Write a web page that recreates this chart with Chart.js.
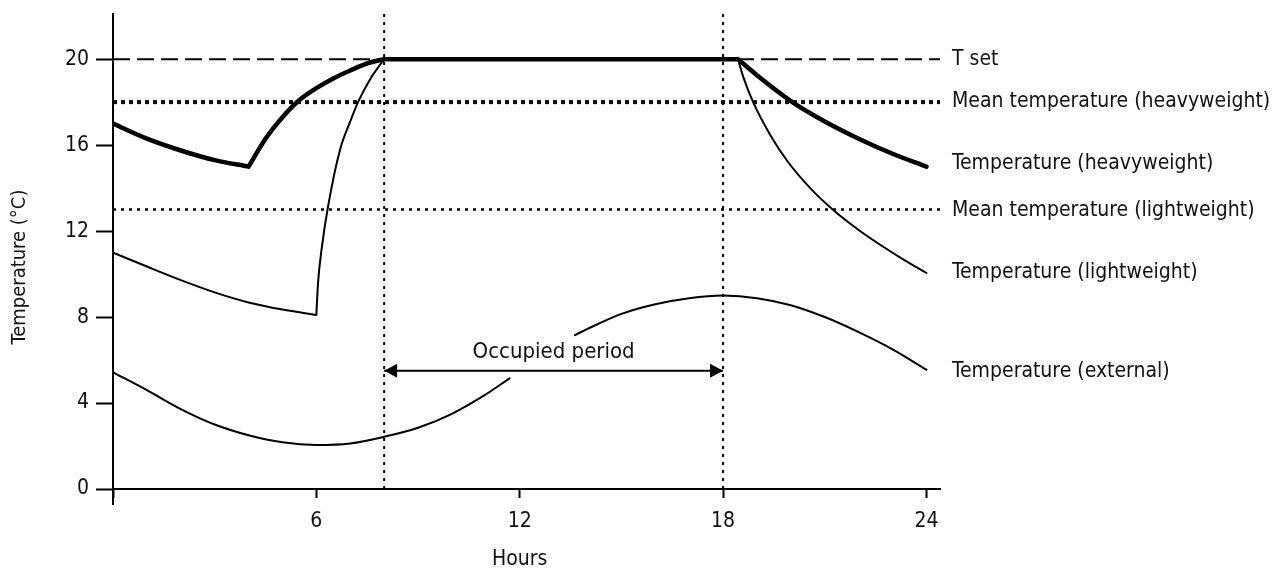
<!DOCTYPE html>
<html>
<head>
<meta charset="utf-8">
<script src="https://cdn.jsdelivr.net/npm/chart.js@4.4.0/dist/chart.umd.min.js"></script>
<style>
  html, body { margin: 0; padding: 0; background: #fff; }
</style>
</head>
<body>
<canvas id="chart" width="1279" height="574"></canvas>
<script>
const FONT = "'DejaVu Sans Condensed', 'DejaVu Sans', sans-serif";

// hours / temperatures
const heavyHours = [0, 1, 2, 3, 4, 4.5, 5, 5.5, 6, 6.5, 7, 7.5, 8, 18.44, 19, 20, 21, 22, 23, 24];
const heavyTemps = [17, 16.3, 15.75, 15.3, 15.0, 16.3, 17.3, 18.1, 18.65, 19.1, 19.47, 19.8, 20, 20, 19.25, 18.05, 17.1, 16.3, 15.6, 15.0];
const heavyCorners = [4, 8, 18.44];

const lightHours = [0, 1, 2, 3, 4, 5, 6, 6.05, 6.15, 6.34, 6.7, 7, 7.23, 7.6, 8, 18.44, 18.6, 18.9, 19.4, 19.9, 20.6, 21.25, 22, 22.6, 23.3, 24];
const lightTemps = [11, 10.35, 9.72, 9.15, 8.68, 8.35, 8.1, 9.6, 11.1, 13.1, 15.8, 17.1, 18.0, 19.1, 20, 20, 19.15, 17.95, 16.45, 15.25, 13.95, 12.98, 12.05, 11.4, 10.7, 10.05];
const lightCorners = [6, 8, 18.44];

// external curve is broken where the "Occupied period" label sits
const extHours = [0, 1, 2, 3, 4, 5, 6, 7, 8, 9, 10, 11, 11.7, 12.7, 13.63, 14, 15, 16, 17, 18, 19, 20, 21, 22, 23, 24];
const extTemps = [5.43, 4.6, 3.72, 3.0, 2.5, 2.17, 2.05, 2.12, 2.43, 2.85, 3.5, 4.4, 5.15, null, 7.16, 7.45, 8.15, 8.6, 8.88, 9.0, 8.88, 8.55, 8.0, 7.3, 6.5, 5.55];

const tSet = 20;
const meanHeavy = 18;
const meanLight = 13;
const occupiedStart = 8;
const occupiedEnd = 18;
const arrowLevel = 5.5;

const xMax = 24.4;
const yMax = 22.1;
const xTicks = [0, 6, 12, 18, 24];
const xTickLabels = ['', '6', '12', '18', '24'];
const yTicks = [0, 4, 8, 12, 16, 20];

const sideLabels = ['T set', 'Mean temperature (heavyweight)', 'Temperature (heavyweight)',
  'Mean temperature (lightweight)', 'Temperature (lightweight)', 'Temperature (external)'];
const sideLevels = [20, 18.05, 15.15, 12.95, 10.05, 5.45];

// split the line at corners so the smoothing keeps them sharp
function pts(xs, ys, corners) {
  const out = [];
  xs.forEach((x, i) => {
    out.push({ x: x, y: ys[i] });
    if (corners && corners.includes(x)) {
      out.push({ x: x, y: null });
      out.push({ x: x, y: ys[i] });
    }
  });
  return out;
}
const hLine = (v) => [{ x: 0, y: v }, { x: xMax, y: v }];
const vLine = (v) => [{ x: v, y: 0 }, { x: v, y: yMax }];

function curve(data, width) {
  return { data: data, borderColor: '#000', borderWidth: width, pointRadius: 0,
    cubicInterpolationMode: 'monotone', spanGaps: false, fill: false,
    borderJoinStyle: 'round', borderCapStyle: 'round' };
}
function ref(data, width, dash) {
  return { data: data, borderColor: '#000', borderWidth: width, borderDash: dash,
    pointRadius: 0, tension: 0, fill: false, borderCapStyle: 'butt' };
}

// arrowheads, texts and the long tick at 0
const annotate = {
  id: 'annotate',
  afterDatasetsDraw(chart) {
    const c = chart.ctx;
    const xs = chart.scales.x, ys = chart.scales.y;
    c.save();
    c.fillStyle = '#000';
    const ay = ys.getPixelForValue(arrowLevel);
    const a1 = xs.getPixelForValue(occupiedStart), a2 = xs.getPixelForValue(occupiedEnd);
    c.beginPath();
    c.moveTo(a1, ay); c.lineTo(a1 + 13, ay - 7); c.lineTo(a1 + 13, ay + 7); c.closePath(); c.fill();
    c.beginPath();
    c.moveTo(a2, ay); c.lineTo(a2 - 13, ay - 7); c.lineTo(a2 - 13, ay + 7); c.closePath(); c.fill();

    c.fillStyle = '#111';
    c.textAlign = 'center';
    c.textBaseline = 'middle';
    c.font = '22px ' + FONT;
    c.fillText('Occupied period', (a1 + a2) / 2, ay - 19);

    c.font = '21px ' + FONT;
    c.fillText('Hours', xs.getPixelForValue(12), 560);

    c.save();
    c.translate(20, 267);
    c.rotate(-Math.PI / 2);
    c.font = '20px ' + FONT;
    c.fillText('Temperature (°C)', 0, 0);
    c.restore();

    c.textAlign = 'left';
    c.font = '21px ' + FONT;
    sideLabels.forEach((t, i) => c.fillText(t, xs.right + 12, ys.getPixelForValue(sideLevels[i])));

    const x0 = xs.getPixelForValue(0);
    c.strokeStyle = '#000';
    c.lineWidth = 2;
    c.beginPath(); c.moveTo(x0, ys.bottom); c.lineTo(x0, ys.bottom + 16); c.stroke();
    c.restore();
  }
};

new Chart(document.getElementById('chart'), {
  type: 'line',
  data: {
    datasets: [
      ref(hLine(tSet), 2, [17, 7]),
      ref(hLine(meanHeavy), 4, [4, 4]),
      ref(hLine(meanLight), 2.5, [3, 5]),
      ref(vLine(occupiedStart), 2, [3, 5]),
      ref(vLine(occupiedEnd), 2, [3, 5]),
      ref([{ x: occupiedStart, y: arrowLevel }, { x: occupiedEnd, y: arrowLevel }], 2, []),
      curve(pts(extHours, extTemps), 2),
      curve(pts(lightHours, lightTemps, lightCorners), 2),
      curve(pts(heavyHours, heavyTemps, heavyCorners), 4.5)
    ]
  },
  options: {
    responsive: false,
    animation: false,
    events: [],
    layout: { padding: { left: 0, right: 339, top: 14, bottom: 0 } },
    plugins: { legend: { display: false }, tooltip: { enabled: false } },
    scales: {
      x: {
        type: 'linear', min: 0, max: xMax,
        afterBuildTicks: (s) => { s.ticks = xTicks.map(v => ({ value: v })); },
        afterFit: (s) => { s.height = 85; s.paddingLeft = 0; s.paddingRight = 0; },
        ticks: {
          color: '#111', font: { family: FONT, size: 21 }, padding: 11, maxRotation: 0,
          callback: (v) => xTickLabels[xTicks.indexOf(v)]
        },
        grid: { drawOnChartArea: false, tickLength: 9, tickColor: '#000', tickWidth: 2 },
        border: { color: '#000', width: 2 }
      },
      y: {
        min: 0, max: yMax,
        afterBuildTicks: (s) => { s.ticks = yTicks.map(v => ({ value: v })); },
        afterFit: (s) => { s.width = 113; s.paddingTop = 0; s.paddingBottom = 0; },
        ticks: { color: '#111', font: { family: FONT, size: 21 }, padding: 7 },
        grid: { drawOnChartArea: false, tickLength: 17, tickColor: '#000', tickWidth: 2 },
        border: { color: '#000', width: 2 }
      }
    }
  },
  plugins: [annotate]
});
</script>
</body>
</html>
